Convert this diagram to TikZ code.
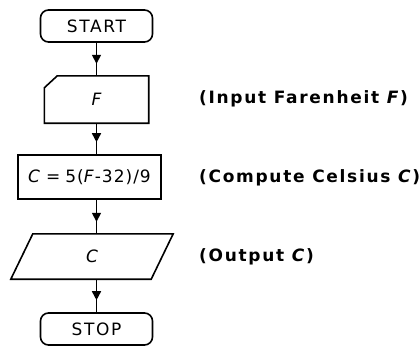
\documentclass[tikz,border=0pt]{standalone}
\usepackage{fontspec}
\usetikzlibrary{arrows.meta,decorations.markings}
\newfontfamily\boxfont[LetterSpace=10]{DejaVu Sans}
\newfontfamily\formulafont[LetterSpace=6]{DejaVu Sans}
\newfontfamily\notefont[LetterSpace=10]{DejaVu Sans}
\begin{document}
\begin{tikzpicture}[x=1pt,y=-1pt,
  every node/.style={inner sep=0pt},
  boxtext/.style={font=\boxfont\fontsize{17pt}{20pt}\selectfont},
  termbox/.style={boxtext,draw,line width=1.6pt,rounded corners=8pt,
    minimum width=112pt,minimum height=32pt},
  shapebox/.style={boxtext,minimum width=#1},
  outline/.style={line width=1.6pt,line join=miter},
  note/.style={anchor=west,font=\notefont\bfseries\fontsize{17pt}{20pt}\selectfont},
  flow/.style={line width=1.6pt,postaction={decorate},
    decoration={markings,
      mark=at position -12pt with {\arrow{Triangle[width=9pt,length=9pt]}}}}
]
\fill[white] (0,0) rectangle (420,346);
\useasboundingbox (0,0) rectangle (420,346);

% terminals
\node[termbox] (start) at (96.5,26) {START};
\node[termbox] (stop) at (96.5,329) {STOP};

% input box with clipped corner
\node[shapebox=104pt,minimum height=47pt] (inp) at (96.5,99.5) {\itshape F};
\draw[outline]
  ([yshift=-12pt]inp.north west) -- ([xshift=13pt]inp.north west)
  -- (inp.north east) -- (inp.south east) -- (inp.south west) -- cycle;

% process box
\node[shapebox=143pt,minimum height=44pt,draw,outline,
      font=\formulafont\fontsize{17pt}{20pt}\selectfont] (calc) at (89.5,177)
  {\textit{C}\hspace{5pt}=\hspace{5pt}5(\textit{F}-32)/9};

% output parallelogram
\node[shapebox=140pt,minimum height=45pt] (outp) at (92,256.5) {\itshape C};
\draw[outline]
  ([xshift=11pt]outp.north west) -- ([xshift=11pt]outp.north east)
  -- ([xshift=-11pt]outp.south east) -- ([xshift=-11pt]outp.south west) -- cycle;

% connectors
\draw[flow] (start.south) -- (start.south |- inp.north);
\draw[flow] (inp.south) -- (inp.south |- calc.north);
\draw[flow] (inp.south |- calc.south) -- (inp.south |- outp.north);
\draw[flow] (inp.south |- outp.south) -- (stop.north);

% side notes
\node[note] (n1) at (199,99) {(Input Farenheit \textit{F})};
\node[note] (n2) at (199,178) {(Compute Celsius \textit{C})};
\node[note] (n3) at (199,257) {(Output \textit{C})};
\end{tikzpicture}
\end{document}
